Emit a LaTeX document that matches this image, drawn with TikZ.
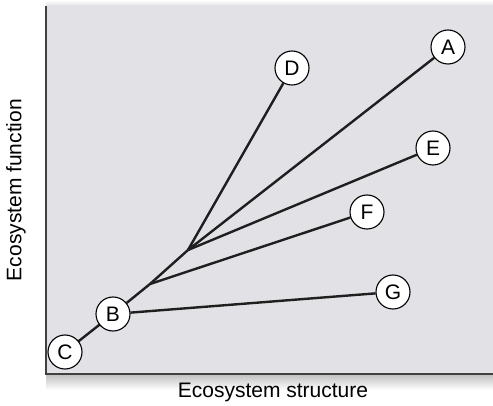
\documentclass[tikz,border=0pt]{standalone}
\usepackage{fontspec}
\setmainfont{Liberation Sans}
\usetikzlibrary{backgrounds}
\begin{document}
\begin{tikzpicture}[x=1pt,y=-1pt,
  letter/.style={circle,draw=black,line width=1.1pt,fill=white,minimum size=34pt,inner sep=0pt,font=\fontsize{21}{21}\selectfont},
  branch/.style={line width=2.4pt,color=black!88},
  axislabel/.style={font=\fontsize{21}{21}\selectfont}]
\useasboundingbox (0,0) rectangle (493,406);
% points
\node[letter] (C) at (65,352) {C};
\node[letter] (B) at (113,314) {B};
\node[letter] (D) at (292,68) {D};
\node[letter] (A) at (448,47) {A};
\node[letter] (E) at (433,148) {E};
\node[letter] (F) at (367,212) {F};
\node[letter] (G) at (393,292) {G};
\coordinate (j1) at (150,284);
\coordinate (j2) at (188,250);
\begin{scope}[on background layer]
% soft shadow along the top and bottom of the panel
\shade[top color=white,bottom color=black!12] (46,0) rectangle (493,6);
\shade[top color=black!25,bottom color=white] (46,374) rectangle (493,390);
% panel
\fill[black!10!white!98!blue] (46,6) rectangle (493,374);
\draw[line width=2pt,color=black!75] (46,6) -- (46,374) -- (493,374);
% branches
\draw[branch,line cap=round] (C) -- (B);
\draw[branch,line join=round] (B) -- (j1) -- (j2);
\draw[branch] (j2) -- (D);
\draw[branch] (j2) -- (A);
\draw[branch] (j2) -- (E);
\draw[branch] (j1) -- (F);
\draw[branch] (B) -- (G);
\end{scope}
% axis titles
\node[axislabel] (xl) at (273,392) {Ecosystem structure};
\node[axislabel,rotate=90] (yl) at (16,190) {Ecosystem function};
\end{tikzpicture}
\end{document}
